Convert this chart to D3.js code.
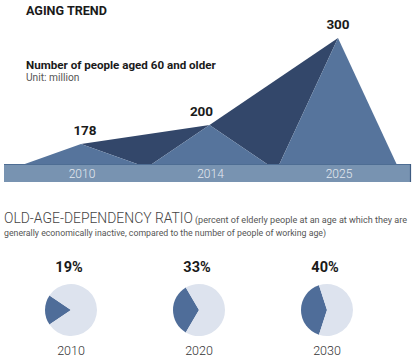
<!DOCTYPE html>
<html>
<head>
<meta charset="utf-8">
<script src="https://cdn.jsdelivr.net/npm/d3@7"></script>
<style>
  body { margin:0; background:#fff; }
  svg text { font-family: "Roboto", "Liberation Sans", sans-serif; }
</style>
</head>
<body>
<svg id="chart" width="420" height="360"></svg>
<script>
// aging trend (million people aged 60+)
var trendYears = ["2010", "2014", "2025"];
var trendValues = [178, 200, 300];

// old-age dependency ratio (%)
var ratioYears = ["2010", "2020", "2030"];
var ratioValues = [19, 33, 40];

var svg = d3.select("#chart");

// ==================== Titles ====================
svg.append("text").attr("x", 26).attr("y", 15)
	.attr("font-size", 12.6).attr("font-weight", 700).attr("fill", "#1a1a1a")
	.text("AGING TREND");
svg.append("text").attr("x", 26).attr("y", 69)
	.attr("font-size", 11.6).attr("font-weight", 700).attr("fill", "#1a1a1a")
	.text("Number of people aged 60 and older");
svg.append("text").attr("x", 26).attr("y", 81)
	.attr("font-size", 10.2).attr("fill", "#555")
	.text("Unit: million");

// ==================== Scales ====================
var base = 164;
var x = d3.scalePoint().domain(trendYears).range([81, 338]);
var y = d3.scaleLinear().domain([155, 300]).range([base, 38]);
var half = 59;

var pts = trendYears.map(function(t, i){ return {year:t, x:x(t), y:y(trendValues[i]), v:trendValues[i]}; });

// dark shapes joining the peaks
var dark = svg.append("g");
for (var i = 0; i < pts.length - 1; i++) {
	var a = pts[i], b = pts[i+1];
	dark.append("path")
		.attr("d", "M" + a.x + "," + a.y + "L" + b.x + "," + b.y +
			"L" + (b.x - half) + "," + (base + 1) + "L" + (a.x + half) + "," + (base + 1) + "Z")
		.attr("fill", "#33476a");
}

// light triangles for each year
svg.append("g").selectAll("path")
	.data(pts)
	.enter().append("path")
		.attr("d", function(d){ return "M" + (d.x - half) + "," + (base + 1) + "L" + d.x + "," + d.y + "L" + (d.x + half) + "," + (base + 1) + "Z"; })
		.attr("fill", "#56749c");

// axis band
svg.append("rect").attr("x", 4).attr("y", base).attr("width", 407).attr("height", 18)
	.attr("fill", "#7893b1");
svg.append("line").attr("x1", 4).attr("x2", 411).attr("y1", base + 0.5).attr("y2", base + 0.5)
	.attr("stroke", "#4e6d93").attr("stroke-width", 1);
svg.append("line").attr("x1", 410.5).attr("x2", 410.5).attr("y1", base).attr("y2", base + 18)
	.attr("stroke", "#3f5c82").attr("stroke-width", 1.2);

svg.append("g").selectAll("text")
	.data(pts)
	.enter().append("text")
		.attr("x", function(d){ return d.x + 1; })
		.attr("y", base + 14)
		.attr("text-anchor", "middle")
		.attr("font-size", 12).attr("font-weight", 300).attr("fill", "#e4e9f0")
		.text(function(d){ return d.year; });

// value labels
svg.append("g").selectAll("text")
	.data(pts)
	.enter().append("text")
		.attr("x", function(d, i){ return d.x + (i === 0 ? 4 : i === 1 ? -8 : 0); })
		.attr("y", function(d){ return d.y - 9; })
		.attr("text-anchor", "middle")
		.attr("font-size", 13.5).attr("font-weight", 700).attr("fill", "#1a1a1a")
		.text(function(d){ return d.v; });

// ==================== Dependency ratio ====================
svg.append("text").attr("x", 4).attr("y", 223)
	.attr("font-size", 14.4).attr("font-weight", 300).attr("fill", "#444")
	.attr("textLength", 189).attr("lengthAdjust", "spacingAndGlyphs")
	.text("OLD-AGE-DEPENDENCY RATIO");
svg.append("text").attr("x", 195).attr("y", 223)
	.attr("font-size", 9.3).attr("fill", "#555")
	.attr("textLength", 212).attr("lengthAdjust", "spacingAndGlyphs")
	.text("(percent of elderly people at an age at which they are");
svg.append("text").attr("x", 4).attr("y", 236)
	.attr("font-size", 9.3).attr("fill", "#555")
	.attr("textLength", 322).attr("lengthAdjust", "spacingAndGlyphs")
	.text("generally economically inactive, compared to the number of people of working age)");

var px = d3.scalePoint().domain(ratioYears).range([71, 327]);
var r = 26;
var arc = d3.arc().innerRadius(0).outerRadius(r);

ratioYears.forEach(function(yr, i){
	var p = ratioValues[i] / 100;
	var pie = d3.pie().sort(null)
		.startAngle(-Math.PI / 2 - p * Math.PI)
		.endAngle(3 * Math.PI / 2 - p * Math.PI);
	var g = svg.append("g").attr("transform", "translate(" + px(yr) + ",310)");
	g.selectAll("path")
		.data(pie([ratioValues[i], 100 - ratioValues[i]]))
		.enter().append("path")
			.attr("d", arc)
			.attr("fill", function(d, j){ return j === 0 ? "#4f6d99" : "#dde3ee"; });
	g.append("text").attr("x", -2).attr("y", -38)
		.attr("text-anchor", "middle")
		.attr("font-size", 14.5).attr("font-weight", 700).attr("fill", "#1a1a1a")
		.text(ratioValues[i] + "%");
	g.append("text").attr("x", 0).attr("y", 45)
		.attr("text-anchor", "middle")
		.attr("font-size", 12.5).attr("font-weight", 300).attr("fill", "#333")
		.text(yr);
});
</script>
</body>
</html>
